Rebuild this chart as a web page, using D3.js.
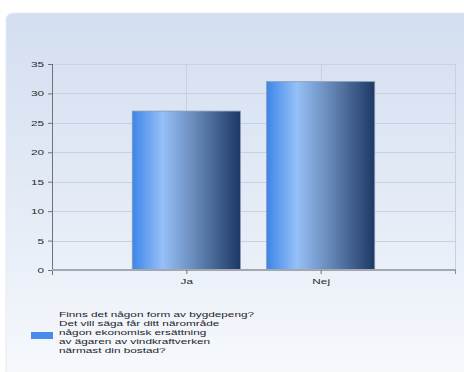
<!DOCTYPE html>
<html>
<head>
<meta charset="utf-8">
<script src="https://cdn.jsdelivr.net/npm/d3@7"></script>
<style>
  html, body { margin: 0; padding: 0; background: #ffffff; }
  svg { display: block; }
  text { font-family: "Liberation Sans", Arial, sans-serif; }
</style>
</head>
<body>
<svg id="chart" width="464" height="372"></svg>
<script>
// Survey answers
const categories = ["Ja", "Nej"];
const counts = [27, 32];
const yTicks = [0, 5, 10, 15, 20, 25, 30, 35];
const legendLines = [
  "Finns det någon form av bygdepeng?",
  "Det vill säga får ditt närområde",
  "någon ekonomisk ersättning",
  "av ägaren av vindkraftverken",
  "närmast din bostad?"
];

const svg = d3.select("#chart");
const W = 464, H = 372;
const plot = { left: 52, right: 455, top: 64, bottom: 270 };
const FONT = 7.6;      // label font size
const STRETCH = 1.55;  // wide glyph rendering

const defs = svg.append("defs");

// Panel background: pale blue fading to near white
const bg = defs.append("linearGradient").attr("id", "panelGrad")
  .attr("x1", 0).attr("y1", 0).attr("x2", 0).attr("y2", 1);
bg.append("stop").attr("offset", "0%").attr("stop-color", "#d3def0");
bg.append("stop").attr("offset", "55%").attr("stop-color", "#e6edf7");
bg.append("stop").attr("offset", "100%").attr("stop-color", "#fafbfd");

// Horizontal cylinder-like shading for bars
const barGrad = defs.append("linearGradient").attr("id", "barGrad")
  .attr("x1", 0).attr("y1", 0).attr("x2", 1).attr("y2", 0);
[["0%", "#3d85ea"], ["28%", "#96c0f7"], ["55%", "#6c8fbf"], ["100%", "#1d3865"]]
  .forEach(([o, c]) => barGrad.append("stop").attr("offset", o).attr("stop-color", c));

svg.append("rect")
  .attr("x", 6).attr("y", 13).attr("width", W + 20).attr("height", H + 20)
  .attr("rx", 7).attr("fill", "url(#panelGrad)")
  .attr("stroke", "#e4e9f1").attr("stroke-width", 1);

const x = d3.scalePoint().domain(categories)
  .range([plot.left, plot.right]).padding(1);
const y = d3.scaleLinear().domain([0, 35]).range([plot.bottom, plot.top]);
const barW = x.step() * 0.805;

// Grid
const grid = svg.append("g");
grid.selectAll("line.h").data(yTicks.filter(d => d > 0)).join("line")
  .attr("x1", plot.left).attr("x2", plot.right)
  .attr("y1", d => Math.round(y(d)) + 0.5).attr("y2", d => Math.round(y(d)) + 0.5)
  .attr("stroke", "#c9d1de").attr("stroke-width", 1);
grid.selectAll("line.v").data(categories).join("line")
  .attr("x1", d => Math.round(x(d)) + 0.5).attr("x2", d => Math.round(x(d)) + 0.5)
  .attr("y1", plot.top).attr("y2", plot.bottom)
  .attr("stroke", "#c9d1de").attr("stroke-width", 1);
grid.append("line")
  .attr("x1", plot.right + 0.5).attr("x2", plot.right + 0.5)
  .attr("y1", plot.top).attr("y2", plot.bottom)
  .attr("stroke", "#c9d1de");

// Bars
svg.append("g").selectAll("rect").data(categories).join("rect")
  .attr("x", (d) => x(d) - barW / 2)
  .attr("y", (d, i) => y(counts[i]))
  .attr("width", barW)
  .attr("height", (d, i) => y(0) - y(counts[i]))
  .attr("fill", "url(#barGrad)")
  .attr("stroke", "#8a9bb5").attr("stroke-width", 0.8);

// Y axis
const yAxis = svg.append("g")
  .attr("transform", `translate(${plot.left},0)`)
  .call(d3.axisLeft(y).tickValues(yTicks).tickSize(4).tickPadding(4));
yAxis.select(".domain").attr("stroke", "#6f7378").attr("d", `M0.5,${plot.top}V${plot.bottom + 5}`);
yAxis.selectAll(".tick line").attr("stroke", "#6f7378");
yAxis.selectAll(".tick text")
  .attr("x", 0)
  .attr("transform", `translate(-8,0) scale(${STRETCH},1)`)
  .attr("font-size", FONT).attr("fill", "#2a2a2a")
  .attr("font-family", "'Liberation Sans', Arial, sans-serif");

// X axis
const xAxis = svg.append("g")
  .attr("transform", `translate(0,${plot.bottom})`)
  .call(d3.axisBottom(x).tickSize(4).tickPadding(3));
xAxis.select(".domain").attr("stroke", "#a3a8ae").attr("stroke-width", 2)
  .attr("d", `M${plot.left},0H${plot.right + 1}`);
xAxis.selectAll(".tick line").attr("stroke", "#6f7378");
xAxis.selectAll(".tick text")
  .attr("y", 0)
  .attr("transform", `translate(0,8.5) scale(${STRETCH},1)`)
  .attr("font-size", FONT).attr("fill", "#2a2a2a")
  .attr("font-family", "'Liberation Sans', Arial, sans-serif");
xAxis.append("line")
  .attr("x1", plot.right + 0.5).attr("x2", plot.right + 0.5)
  .attr("y1", 0).attr("y2", 4).attr("stroke", "#8a8f95");

// Legend
const legend = svg.append("g");
legend.append("rect")
  .attr("x", 31).attr("y", 332).attr("width", 22).attr("height", 7)
  .attr("fill", "#4a8ae8");
legend.append("g")
  .attr("transform", `translate(59,317) scale(${STRETCH},1)`)
  .append("text")
  .attr("font-size", FONT).attr("fill", "#1e1e1e")
  .selectAll("tspan").data(legendLines).join("tspan")
  .attr("x", 0).attr("y", (d, i) => i * 9)
  .text(d => d);
</script>
</body>
</html>
